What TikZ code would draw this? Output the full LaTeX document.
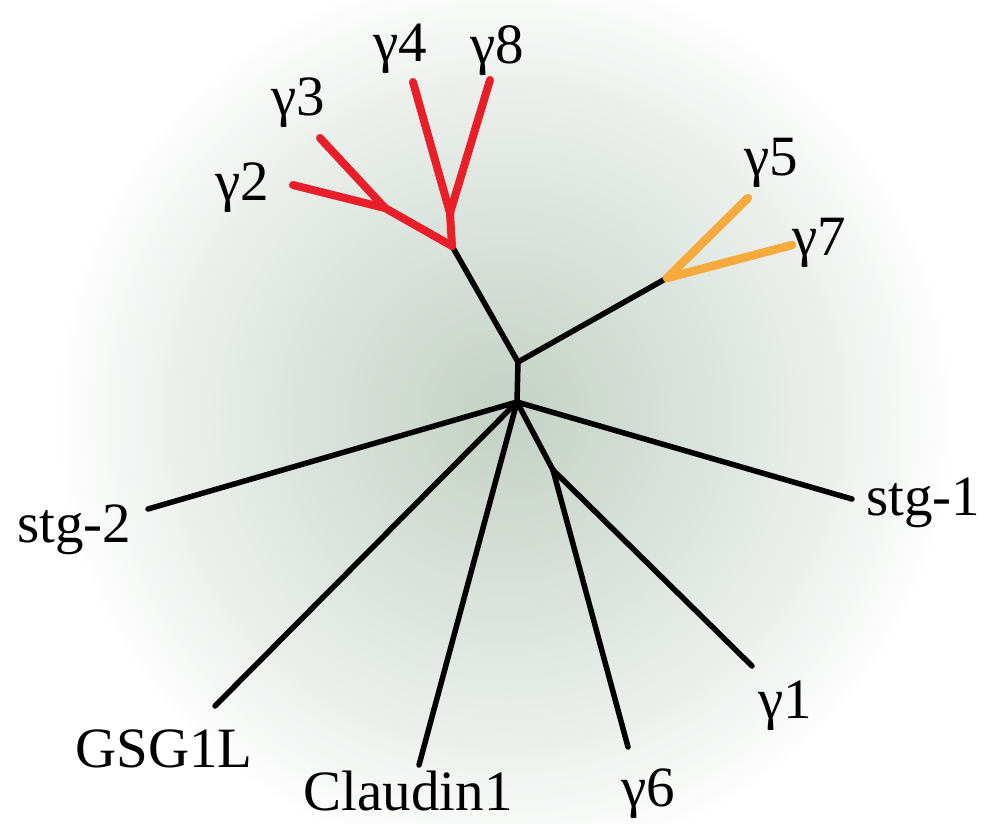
\documentclass[tikz,border=0pt]{standalone}
\usepackage{fontspec}
\setmainfont{Liberation Serif}
\definecolor{bgcen}{RGB}{196,209,198}
\definecolor{redbr}{RGB}{232,30,40}
\definecolor{orbr}{RGB}{246,170,60}
\begin{document}
\begin{tikzpicture}[x=1pt,y=-1pt,
  br/.style={line width=5.5pt, black, line cap=round, line join=round},
  rbr/.style={line width=8pt, redbr, line cap=round, line join=round},
  obr/.style={line width=8.5pt, orbr, line cap=round, line join=round},
  lab/.style={font=\fontsize{57}{60}\selectfont, inner sep=0pt, anchor=base}]
\useasboundingbox (0,0) rectangle (986,823);
\fill[white] (0,0) rectangle (986,823);
\coordinate (C) at (505,415);
\foreach \i in {1,...,90}{
  \pgfmathsetmacro\rr{450*(1-\i/90)+0.01}
  \pgfmathsetmacro\pp{100*(\i/90)^0.85}
  \fill[bgcen!\pp!white] (C) circle (\rr);
}
% internal nodes
\coordinate (U) at (518,362);
\coordinate (L) at (517,402);
\coordinate (R) at (452,246);
\coordinate (A) at (385,208);
\coordinate (B) at (450,213);
\coordinate (O) at (667,278);
\coordinate (J) at (553,470);
% leaf ends
\coordinate (e2) at (293,185);
\coordinate (e3) at (320,138);
\coordinate (e4) at (413,82);
\coordinate (e8) at (490,80);
\coordinate (e5) at (748,198);
\coordinate (e7) at (792,245);
\coordinate (es1) at (852,499);
\coordinate (es2) at (148,509);
\coordinate (eg) at (215,706);
\coordinate (ec) at (419,765);
\coordinate (e6) at (628,747);
\coordinate (e1) at (752,666);
% black branches
\draw[br] (O) -- (U) -- (R);
\draw[br] (U) -- (L);
\draw[br] (L) -- (es1);
\draw[br] (L) -- (es2);
\draw[br] (L) -- (eg);
\draw[br] (L) -- (ec);
\draw[br] (L) -- (J);
\draw[br] (J) -- (e6);
\draw[br] (J) -- (e1);
% red clade
\draw[rbr] (R) -- (A) -- (e2);
\draw[rbr] (A) -- (e3);
\draw[rbr] (R) -- (B) -- (e4);
\draw[rbr] (B) -- (e8);
% orange clade
\draw[obr] (O) -- (e5);
\draw[obr] (O) -- (e7);
% labels
\node[lab] (l2) at (242,200) {γ2};
\node[lab] (l3) at (298,115) {γ3};
\node[lab] (l4) at (400,61) {γ4};
\node[lab] (l8) at (497,63) {γ8};
\node[lab] (l5) at (771,175) {γ5};
\node[lab] (l7) at (819,255) {γ7};
\node[lab] (ls1) at (923,515) {stg-1};
\node[lab] (ls2) at (74,542) {stg-2};
\node[lab] (lg) at (164,767) {GSG1L};
\node[lab] (lc) at (408,810) {Claudin1};
\node[lab] (l6) at (648,806) {γ6};
\node[lab] (l1) at (785,718) {γ1};
\end{tikzpicture}
\end{document}
